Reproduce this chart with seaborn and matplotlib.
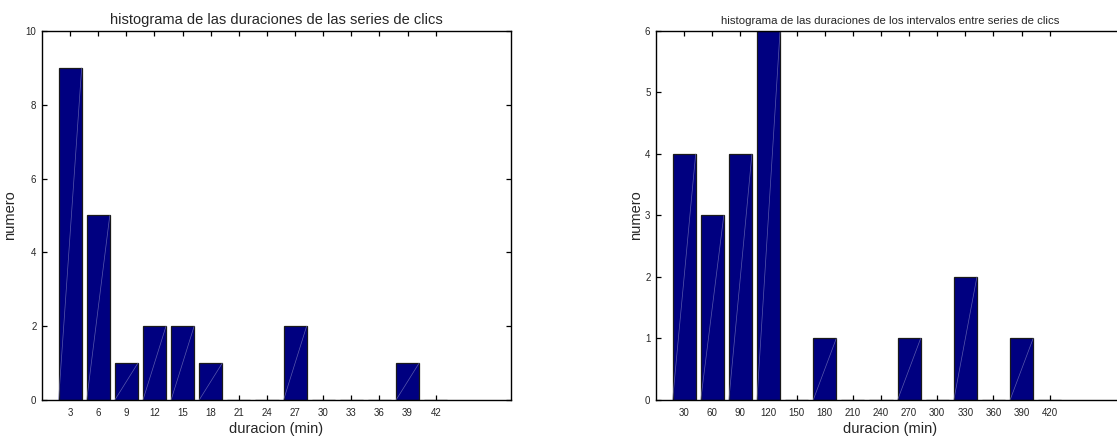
import numpy as np
import pandas as pd
import seaborn as sns
import matplotlib.pyplot as plt

# Data
dur_series = [3, 6, 9, 12, 15, 18, 21, 24, 27, 30, 33, 36, 39, 42]
count_series = [9, 5, 1, 2, 2, 1, 0, 0, 2, 0, 0, 0, 1, 0]

dur_gaps = [30, 60, 90, 120, 150, 180, 210, 240, 270, 300, 330, 360, 390, 420]
count_gaps = [4, 3, 4, 6, 0, 1, 0, 0, 1, 0, 2, 0, 1, 0]

sns.set_theme(style="ticks")
plt.rcParams['font.family'] = ['Liberation Sans', 'DejaVu Sans']

fig = plt.figure(figsize=(11.17, 4.41), dpi=100)
ax1 = fig.add_axes([0.0376, 0.093, 0.4196, 0.8367])
ax2 = fig.add_axes([0.5873, 0.093, 0.4196, 0.8367])


def draw_hist(ax, x, y, xlim, ylim, yticks, title, title_size, ypad):
    df = pd.DataFrame({"dur": x, "n": y})
    sns.barplot(data=df, x="dur", y="n", native_scale=True, width=0.82,
                color="#000080", saturation=1, edgecolor="#1a1a1a",
                linewidth=0.9, ax=ax)
    # faint diagonal seen in each bar of the original rendering
    for p in ax.patches:
        h = p.get_height()
        if h > 0:
            x0 = p.get_x()
            ax.plot([x0, x0 + p.get_width()], [0, h], color="#7070b8",
                    lw=0.5, alpha=0.8, zorder=p.get_zorder() + 0.1)
    ax.set_xlim(*xlim)
    ax.set_ylim(*ylim)
    ax.set_xticks(x)
    ax.set_xticklabels([str(v) for v in x])
    ax.set_yticks(yticks)
    ax.tick_params(direction="in", top=True, right=True, length=3.5,
                   width=0.9, labelsize=7, labelcolor="#262626", color="black")
    ax.tick_params(axis="x", pad=6)
    ax.tick_params(axis="y", pad=4)
    for s in ax.spines.values():
        s.set_visible(True)
        s.set_color("black")
        s.set_linewidth(1.0)
    ax.set_title(title, fontsize=title_size, pad=5)
    ax.set_xlabel("duracion (min)", fontsize=10.5, labelpad=3)
    ax.set_ylabel("numero", fontsize=10.5, labelpad=ypad)


draw_hist(ax1, dur_series, count_series, (0, 50), (0, 10), [0, 2, 4, 6, 8, 10],
          "histograma de las duraciones de las series de clics", 10.5, 6.5)
draw_hist(ax2, dur_gaps, count_gaps, (0, 500), (0, 6), [0, 1, 2, 3, 4, 5, 6],
          "histograma de las duraciones de los intervalos entre series de clics", 8.2, 1.5)

fig.savefig("out.png", dpi=100)
